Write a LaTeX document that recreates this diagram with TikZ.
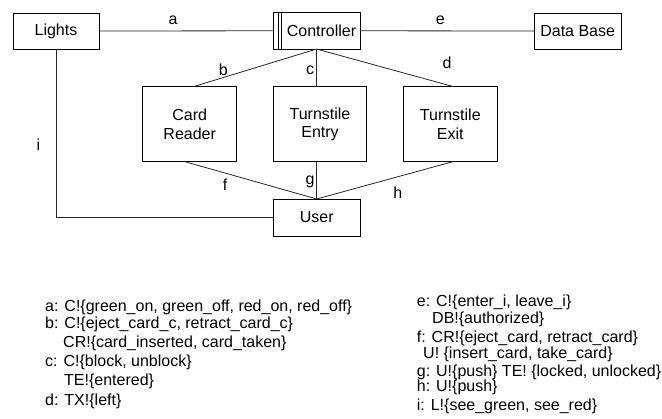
\documentclass[tikz,border=0pt]{standalone}
\usepackage{fontspec}
\setmainfont{Liberation Sans}
\begin{document}
\begin{tikzpicture}[x=1pt,y=-1pt,
  font=\fontsize{16}{18.5}\selectfont,
  box/.style={draw=black,line width=0.8pt,inner sep=0pt,outer sep=0pt,align=center},
  conn/.style={draw=black!85,line width=0.8pt},
  lab/.style={inner sep=0pt},
  leg/.style={anchor=base west,inner sep=0pt}]
\useasboundingbox (0,0) rectangle (662,419);
% boxes
\node[box,minimum width=86pt,minimum height=36pt] (lights) at (56,31) {Lights};
\node[box,minimum width=87pt,minimum height=36.5pt] (ctrl) at (316.5,30.8) {\hspace*{10pt}Controller};
\node[box,minimum width=86.7pt,minimum height=36pt] (db) at (577.7,31) {Data Base};
\node[box,minimum width=94pt,minimum height=75pt] (cr) at (189.7,124.2) {Card\\Reader};
\node[box,minimum width=93.4pt,minimum height=75pt] (te) at (320,124.2) {Turnstile\\Entry};
\node[box,minimum width=93.3pt,minimum height=75pt] (tx) at (450.3,124.2) {Turnstile\\Exit};
\node[box,minimum width=86.7pt,minimum height=37pt] (user) at (316.7,217.5) {User};
% controller stripes
\draw[line width=0.8pt] ([xshift=5pt]ctrl.north west) -- ([xshift=5pt]ctrl.south west);
\draw[line width=0.8pt] ([xshift=8.7pt]ctrl.north west) -- ([xshift=8.7pt]ctrl.south west);
% connectors
\draw[conn] (lights.east) -- (ctrl.west);
\draw[conn] (ctrl.east) -- (db.west);
\draw[conn] (ctrl.south) -- ([xshift=3.6pt]cr.north);
\draw[conn] (ctrl.south) -- (ctrl.south |- te.north);
\draw[conn] (ctrl.south) -- ([xshift=3.4pt]tx.north);
\draw[conn] ([xshift=-4.7pt]cr.south) -- (user.north);
\draw[conn] (user.north |- te.south) -- (user.north);
\draw[conn] ([xshift=2.4pt]tx.south) -- (user.north);
\draw[conn] (lights.south) |- (user.west);
% connector labels
\node[lab] (la) at (173,20.5) {a};
\node[lab] (le) at (440.3,20.5) {e};
\node[lab] (lb) at (223.3,69.5) {b};
\node[lab] (lc) at (310,70) {c};
\node[lab] (ld) at (447,62.5) {d};
\node[lab] (lf) at (225,185) {f};
\node[lab] (lg) at (310,182) {g};
\node[lab] (lh) at (397.7,193) {h};
\node[lab] (li) at (38.3,145) {i};
% legend left
\node[leg] (ka) at (45,312) {a: C!\{green\_on, green\_off, red\_on, red\_off\}};
\node[leg] (kb) at (45,328.5) {b: C!\{eject\_card\_c, retract\_card\_c\}};
\node[leg] (kb2) at (63,348) {CR!\{card\_inserted, card\_taken\}};
\node[leg] (kc) at (45,366.5) {c: C!\{block, unblock\}};
\node[leg] (kc2) at (64,385.5) {TE!\{entered\}};
\node[leg] (kd) at (45,406) {d: TX!\{left\}};
% legend right
\node[leg] (ke) at (416.7,307) {e: C!\{enter\_i, leave\_i\}};
\node[leg] (ke2) at (432,323.5) {DB!\{authorized\}};
\node[leg] (kf) at (416.7,343) {f: CR!\{eject\_card, retract\_card\}};
\node[leg] (kf2) at (423,359) {U! \{insert\_card, take\_card\}};
\node[leg] (kg) at (416.7,376.5) {g: U!\{push\} TE! \{locked, unlocked\}};
\node[leg] (kh) at (416.7,392) {h: U!\{push\}};
\node[leg] (ki) at (416.7,410.5) {i: L!\{see\_green, see\_red\}};
\end{tikzpicture}
\end{document}
